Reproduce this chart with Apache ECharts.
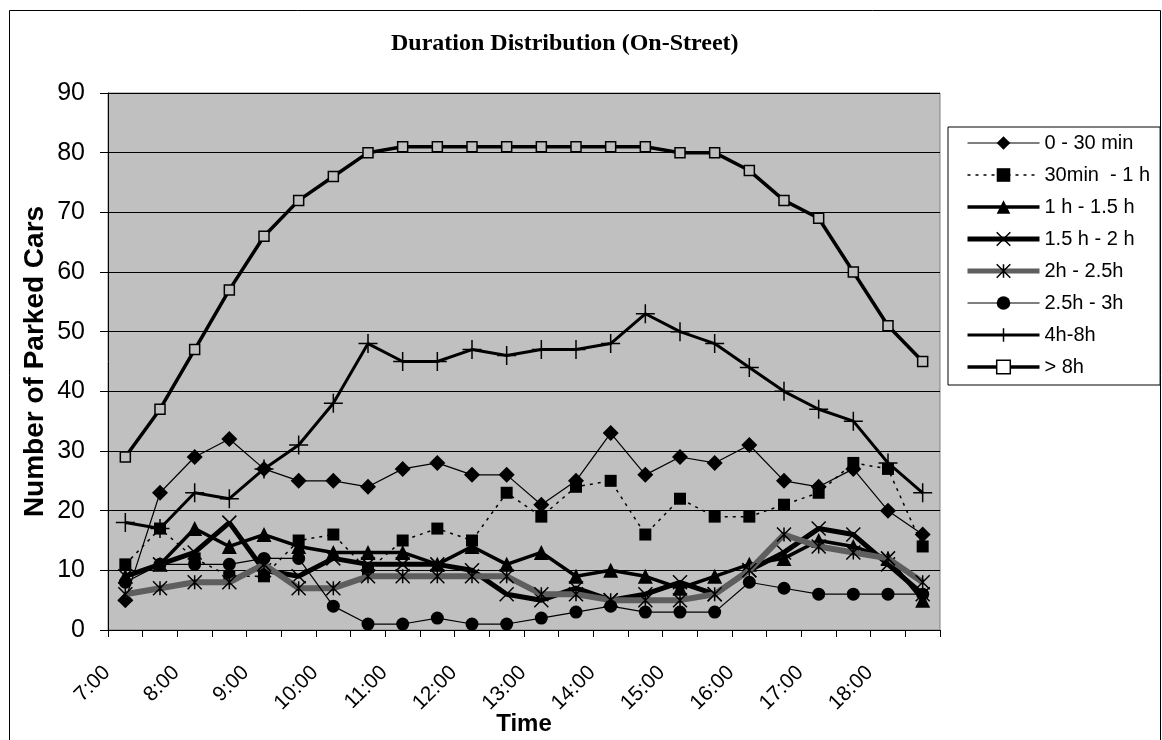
<!DOCTYPE html>
<html><head><meta charset="utf-8">
<script src="https://cdn.jsdelivr.net/npm/echarts@6/dist/echarts.min.js"></script>
<style>html,body{margin:0;padding:0;background:#fff}#c{width:1162px;height:740px}</style>
</head><body><div id="c"></div>
<script>
const categories = ['7:00','7:30','8:00','8:30','9:00','9:30','10:00','10:30','11:00','11:30','12:00','12:30',
  '13:00','13:30','14:00','14:30','15:00','15:30','16:00','16:30','17:00','17:30','18:00','18:30'];
const seriesNames = ['0 - 30 min','30min  - 1 h','1 h - 1.5 h','1.5 h - 2 h','2h - 2.5h','2.5h - 3h','4h-8h','> 8h'];
const d0to30   = [5,23,29,32,27,25,25,24,27,28,26,26,21,25,33,26,29,28,31,25,24,27,20,16];
const d30to60  = [11,17,12,9,9,15,16,10,15,17,15,23,19,24,25,16,22,19,19,21,23,28,27,14];
const d60to90  = [9,11,17,14,16,14,13,13,13,11,14,11,13,9,10,9,7,9,11,12,15,14,12,5];
const d90to120 = [9,11,13,18,10,9,12,11,11,11,10,6,5,7,5,6,8,6,10,13,17,16,11,6];
const d120to150= [6,7,8,8,11,7,7,9,9,9,9,9,6,6,5,5,5,6,10,16,14,13,12,8];
const d150to180= [8,11,11,11,12,12,4,1,1,2,1,1,2,3,4,3,3,3,8,7,6,6,6,6];
const d4to8    = [18,17,23,22,27,31,38,48,45,45,47,46,47,47,48,53,50,48,44,40,37,35,28,23];
const dOver8   = [29,37,47,57,66,72,76,80,81,81,81,81,81,81,81,81,80,80,77,72,69,60,51,45];
const yMin = 0, yMax = 90, yStep = 10;

const FONT = "'Liberation Sans', Arial, sans-serif";
const X_PATH = 'path://M0,0L10,10M10,0L0,10';
const AST_PATH = 'path://M0,0L10,10M10,0L0,10M5,0L5,10';
const PLUS_PATH = 'path://M5,0L5,10M0,5L10,5';
const strokeOnly = {color:'rgba(0,0,0,0)', borderColor:'#000', borderWidth:1.5};

const styles = [
  {data:d0to30, symbol:'diamond', symbolSize:16, line:{width:1.2, color:'#000'}, item:{color:'#000'}},
  {data:d30to60, symbol:'rect', symbolSize:12, line:{width:1.5, color:'#000', type:[3,5]}, item:{color:'#000'}},
  {data:d60to90, symbol:'triangle', symbolSize:15, line:{width:3.5, color:'#000'}, item:{color:'#000'}},
  {data:d90to120, symbol:X_PATH, symbolSize:14, line:{width:5, color:'#000'}, item:strokeOnly},
  {data:d120to150, symbol:AST_PATH, symbolSize:14, line:{width:6, color:'#5e5e5e'}, item:strokeOnly},
  {data:d150to180, symbol:'circle', symbolSize:13, line:{width:1.2, color:'#000'}, item:{color:'#000'}},
  {data:d4to8, symbol:PLUS_PATH, symbolSize:19, line:{width:3, color:'#000'}, item:strokeOnly},
  {data:dOver8, symbol:'rect', symbolSize:10, line:{width:3.5, color:'#000'}, item:{color:'#c0c0c0', borderColor:'#000', borderWidth:1.5}}
];

const series = styles.map((s,i)=>({
  name: seriesNames[i], type:'line', data:s.data, symbol:s.symbol, symbolSize:s.symbolSize,
  lineStyle:s.line, itemStyle:s.item, animation:false, z: 2+i, emphasis:{disabled:true}
}));

const legendData = seriesNames.map((n,i)=>{
  const s = styles[i];
  const o = {name:n, lineStyle:{width:Math.min(s.line.width,5), color:s.line.color, type:s.line.type || 'solid'}};
  if (i===7) o.itemStyle = {color:'#fff', borderColor:'#000', borderWidth:1.5};
  else if (s.item.borderWidth) o.itemStyle = {color:'rgba(0,0,0,0)', borderColor:'#000', borderWidth:1.5};
  else o.itemStyle = {color:'#000', borderWidth:0};
  return o;
});

const chart = echarts.init(document.getElementById('c'), null, {renderer:'canvas'});
chart.setOption({
  animation:false,
  title:{text:'Duration Distribution (On-Street)', left:386, top:27,
    textStyle:{fontFamily:"'Liberation Serif','Times New Roman',serif", fontWeight:'bold', fontSize:24, color:'#000'}},
  grid:{left:108, right:222, top:93, bottom:110, containLabel:false, outerBoundsMode:'none',
    show:true, backgroundColor:'#c0c0c0', borderColor:'#808080', borderWidth:1},
  legend:{orient:'vertical', left:948, top:127, data:legendData, backgroundColor:'#fff', borderColor:'#000', borderWidth:1,
    padding:[6,10,8,17], itemWidth:72, itemHeight:17, itemGap:12, selectedMode:false,
    textStyle:{fontFamily:FONT, fontSize:20, color:'#000'}},
  xAxis:{type:'category', data:categories, boundaryGap:true,
    name:'Time', nameLocation:'middle', nameGap:82, nameMoveOverlap:false,
    nameTextStyle:{fontFamily:FONT, fontWeight:'bold', fontSize:24, color:'#000'},
    axisLine:{lineStyle:{color:'#000', width:1}},
    axisTick:{show:true, interval:0, length:7, lineStyle:{color:'#000'}},
    axisLabel:{interval:1, rotate:45, margin:21, padding:[0,26,0,0], fontFamily:FONT, fontSize:21, color:'#000'}},
  yAxis:{type:'value', min:yMin, max:yMax, interval:yStep,
    name:'Number of Parked Cars', nameLocation:'middle', nameRotate:90, nameGap:59, nameMoveOverlap:false,
    nameTextStyle:{fontFamily:FONT, fontWeight:'bold', fontSize:28, color:'#000'},
    axisLine:{show:true, lineStyle:{color:'#000', width:1}},
    axisTick:{show:true, length:8, lineStyle:{color:'#000'}},
    axisLabel:{margin:23, fontFamily:FONT, fontSize:25, color:'#000'},
    splitLine:{show:true, lineStyle:{color:'#000', width:1}}},
  graphic:[{type:'rect', silent:true, z:100, shape:{x:9.5, y:10.5, width:1151, height:760},
    style:{fill:'none', stroke:'#000', lineWidth:1}}],
  series: series
});
</script></body></html>
